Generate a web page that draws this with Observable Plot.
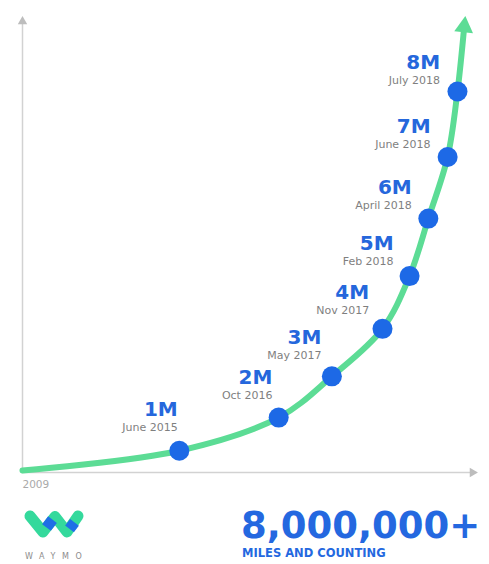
<!DOCTYPE html>
<html>
<head>
<meta charset="utf-8">
<script src="https://cdn.jsdelivr.net/npm/d3@7"></script>
<script src="https://cdn.jsdelivr.net/npm/@observablehq/plot@0.6"></script>
<style>
html,body{margin:0;padding:0;background:#fff;}
#wrap{position:relative;width:489px;height:564px;overflow:hidden;font-family:"DejaVu Sans",sans-serif;}
#chart svg{display:block;}
.abs{position:absolute;line-height:1;white-space:nowrap;}
#big{left:241px;top:506.5px;font-size:37px;font-weight:bold;color:#2468e0;}
#sub{left:242px;top:548.3px;font-size:11.5px;font-weight:bold;color:#2468e0;}
#brand{left:25px;top:553px;font-size:8px;letter-spacing:6.6px;color:#8c8c8c;}
#logo{left:22px;top:508px;}
</style>
</head>
<body>
<div id="wrap">
  <div id="chart"></div>
  <svg id="logo" class="abs" width="64" height="32" viewBox="0 0 64 32">
    <polyline points="8,8 21,24 33,8.5 45,24 56,8" fill="none" stroke="#34d99c" stroke-width="11" stroke-linecap="round" stroke-linejoin="round"/>
    <line x1="24.5" y1="19.5" x2="30.5" y2="11.7" stroke="#1f6fe6" stroke-width="11" stroke-linecap="butt"/>
    <line x1="47.5" y1="20.8" x2="52.5" y2="14.3" stroke="#1f6fe6" stroke-width="11" stroke-linecap="butt"/>
  </svg>
  <div id="big" class="abs">8,000,000+</div>
  <div id="sub" class="abs">MILES AND COUNTING</div>
  <div id="brand" class="abs">WAYMO</div>
</div>
<script>
// ---- data ----
const milestoneLabels = ["1M", "2M", "3M", "4M", "5M", "6M", "7M", "8M"];
const milestoneMiles  = [1000000, 2000000, 3000000, 4000000, 5000000, 6000000, 7000000, 8000000];
const milestoneDates  = ["June 2015", "Oct 2016", "May 2017", "Nov 2017", "Feb 2018", "April 2018", "June 2018", "July 2018"];
const milestoneMonths = ["2015-06", "2016-10", "2017-05", "2017-11", "2018-02", "2018-04", "2018-06", "2018-07"];
const originLabel = "2009";
const originMonth = "2009-01";
const arrowTipMonth = "2018-07-22";
const arrowTipMiles = 8940000;

// ---- helpers / tables ----
const [oy, om] = originMonth.split("-").map(Number);
const toMonths = s => {
  const [y, m, d] = s.split("-").map(Number);
  return (y - oy) * 12 + (m - om) + (d ? (d - 1) / 31 : 0);
};
const points = milestoneLabels.map((label, i) => ({
  label, date: milestoneDates[i], t: toMonths(milestoneMonths[i]), m: milestoneMiles[i]
}));
const origin = {label: originLabel, t: toMonths(originMonth), m: 0};
const tip = {t: toMonths(arrowTipMonth), m: arrowTipMiles};
const path = [origin, ...points, tip];

const W = 489, H = 495;
const M = {top: 22, right: 17, bottom: 25, left: 22};
const xDomain = [0, 115.5], yDomain = [0, 9000000];
const xExp = 2.6, yExp = 1.42;
const green = "#5cdc95", blue = "#1d69e6", axisGray = "#d2d2d2";

// pixel-space helpers (same mapping as Plot's scales) used only for label offset direction
const sx = d3.scalePow().exponent(xExp).domain(xDomain).range([M.left, W - M.right]);
const sy = d3.scalePow().exponent(yExp).domain(yDomain).range([H - M.bottom, M.top]);

const labelMarks = points.flatMap((p, i) => {
  const a = path[i], b = path[i + 2];
  let tx = sx(b.t) - sx(a.t), ty = sy(b.m) - sy(a.m);
  const len = Math.hypot(tx, ty); tx /= len; ty /= len;
  const nx = ty, ny = -tx;
  const dx = 20 * nx + 2.5, dy = 15 * ny - 5.5;
  return [
    Plot.text([p], {x: "t", y: "m", text: "label", dx, dy: dy - 15, textAnchor: "end", lineAnchor: "bottom",
      fontSize: 20, fontWeight: "bold", fill: "#2567dc"}),
    Plot.text([p], {x: "t", y: "m", text: "date", dx, dy, textAnchor: "end", lineAnchor: "bottom",
      fontSize: 11, fill: "#7f7f7f"})
  ];
});

const last = path[path.length - 2];
const tipAngle = Math.atan2(sx(tip.t) - sx(last.t), sy(last.m) - sy(tip.m)) * 180 / Math.PI;

const chart = Plot.plot({
  width: W, height: H,
  marginTop: M.top, marginRight: M.right, marginBottom: M.bottom, marginLeft: M.left,
  style: {fontFamily: "DejaVu Sans, sans-serif", background: "#fff", overflow: "visible"},
  x: {type: "pow", exponent: xExp, domain: xDomain, axis: null},
  y: {type: "pow", exponent: yExp, domain: yDomain, axis: null},
  marks: [
    Plot.ruleX([xDomain[0]], {stroke: axisGray, strokeWidth: 1.5}),
    Plot.ruleY([yDomain[0]], {stroke: axisGray, strokeWidth: 1.5, dy: 2}),
    Plot.dot([{t: xDomain[0], m: yDomain[1]}], {x: "t", y: "m", symbol: "triangle", r: 3.5, fill: "#bdbdbd", dy: -1}),
    Plot.dot([{t: xDomain[1], m: yDomain[0]}], {x: "t", y: "m", symbol: "triangle", r: 3.5, fill: "#bdbdbd", rotate: 90, dy: 2}),
    Plot.text([origin], {x: "t", y: "m", text: "label", textAnchor: "start", lineAnchor: "top", dy: 10,
      fontSize: 10.5, fill: "#a9a9a9"}),
    Plot.line(path, {x: "t", y: "m", stroke: green, strokeWidth: 6, curve: "catmull-rom"}),
    Plot.dot([tip], {x: "t", y: "m", symbol: "triangle", r: 7, fill: green, rotate: tipAngle}),
    Plot.dot(points, {x: "t", y: "m", r: 10, fill: blue}),
    ...labelMarks
  ]
});
document.getElementById("chart").appendChild(chart);
</script>
</body>
</html>
